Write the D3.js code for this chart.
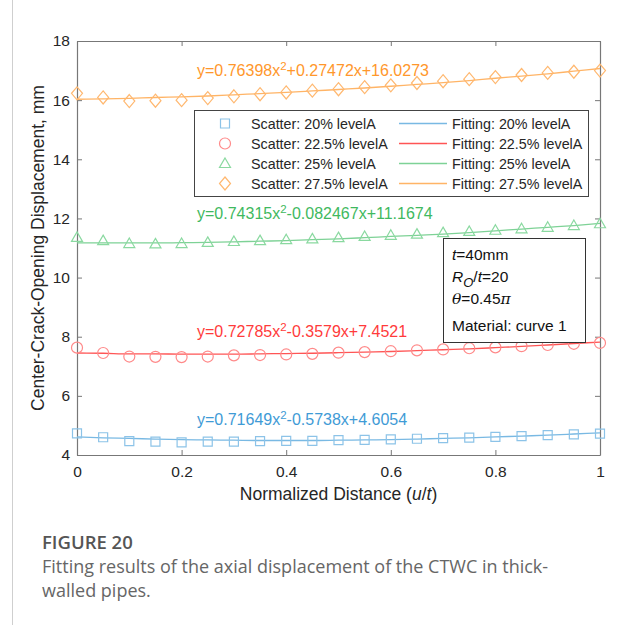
<!DOCTYPE html>
<html>
<head>
<meta charset="utf-8">
<script src="https://cdn.jsdelivr.net/npm/d3@7"></script>
<style>
  body { margin: 0; background: #fff; }
  svg { display: block; }
</style>
</head>
<body>
<div id="chart"></div>
<script>
// normalized distance u/t
var xs = [0, 0.05, 0.1, 0.15, 0.2, 0.25, 0.3, 0.35, 0.4, 0.45, 0.5,
          0.55, 0.6, 0.65, 0.7, 0.75, 0.8, 0.85, 0.9, 0.95, 1];

// scatter values (mm)
var scatter20  = [4.73, 4.60, 4.47, 4.45, 4.43, 4.45, 4.45, 4.47, 4.48, 4.48, 4.50,
                  4.51, 4.53, 4.55, 4.57, 4.59, 4.61, 4.64, 4.67, 4.70, 4.72];
var scatter225 = [7.63, 7.45, 7.33, 7.32, 7.31, 7.33, 7.37, 7.38, 7.40, 7.42, 7.46,
                  7.48, 7.51, 7.54, 7.57, 7.61, 7.64, 7.68, 7.72, 7.76, 7.79];
var scatter25  = [11.36, 11.25, 11.15, 11.14, 11.15, 11.19, 11.22, 11.25, 11.28, 11.31, 11.35,
                  11.39, 11.43, 11.47, 11.52, 11.56, 11.60, 11.65, 11.70, 11.76, 11.82];
var scatter275 = [16.23, 16.09, 15.97, 15.98, 16.00, 16.07, 16.13, 16.20, 16.26, 16.32, 16.37,
                  16.44, 16.50, 16.58, 16.64, 16.71, 16.78, 16.85, 16.92, 16.96, 17.00];

// fitted curves, sampled at the same x
var fit20  = [4.61, 4.58, 4.56, 4.54, 4.52, 4.51, 4.50, 4.49, 4.49, 4.49, 4.50,
              4.51, 4.52, 4.54, 4.56, 4.58, 4.61, 4.64, 4.67, 4.71, 4.75];
var fit225 = [7.45, 7.44, 7.42, 7.42, 7.41, 7.41, 7.41, 7.42, 7.43, 7.44, 7.46,
              7.48, 7.50, 7.53, 7.56, 7.59, 7.63, 7.67, 7.72, 7.77, 7.82];
var fit25  = [11.17, 11.17, 11.17, 11.17, 11.18, 11.19, 11.21, 11.23, 11.25, 11.28, 11.31,
              11.35, 11.39, 11.43, 11.47, 11.52, 11.58, 11.64, 11.70, 11.76, 11.83];
var fit275 = [16.03, 16.04, 16.06, 16.09, 16.11, 16.14, 16.18, 16.22, 16.26, 16.31, 16.36,
              16.41, 16.47, 16.53, 16.59, 16.66, 16.74, 16.81, 16.89, 16.98, 17.07];

var levels = ['20%', '22.5%', '25%', '27.5%'];
var markers = ['square', 'circle', 'triangle', 'diamond'];
var equations = [
  ['y=0.71649x', '-0.5738x+4.6054'],
  ['y=0.72785x', '-0.3579x+7.4521'],
  ['y=0.74315x', '-0.082467x+11.1674'],
  ['y=0.76398x', '+0.27472x+16.0273']
];
var xTicks = [0, 0.2, 0.4, 0.6, 0.8, 1];
var yTicks = [4, 6, 8, 10, 12, 14, 16, 18];

var textCol   = ['#3f9bd6', '#ff3b3b', '#3fb960', '#ff972c'];
var lineCol   = ['#79b9e3', '#ff5555', '#7ed296', '#ffb466'];
var markCol   = ['#8cc3e8', '#ff8a8a', '#8ad9a0', '#ffb870'];

var scatter = [scatter20, scatter225, scatter25, scatter275];
var fits = [fit20, fit225, fit25, fit275];
var eqBaseline = [425, 337, 219, 76];  // text positions (px)

var W = 622, H = 625;
var mLeft = 77, mRight = 600, mTop = 41, mBottom = 455;
var font = "'Liberation Sans', Arial, Helvetica, sans-serif";
var axisCol = '#777';

var svg = d3.select('#chart').append('svg')
  .attr('width', W)
  .attr('height', H)
  .attr('style', 'background-color: white');

// page border line on the left
svg.append('line')
  .attr('x1', 12.5).attr('x2', 12.5)
  .attr('y1', 0).attr('y2', H)
  .attr('stroke', '#cfcfcf').attr('stroke-width', 1);

var x = d3.scaleLinear().domain([0, 1]).range([mLeft, mRight]);
var y = d3.scaleLinear().domain([4, 18]).range([mBottom, mTop]);

// axes (ticks pointing inward, mirrored on top/right)
function styleAxis(g, showLabels) {
  g.select('.domain').attr('stroke', axisCol).attr('stroke-width', 1.2);
  g.selectAll('.tick line').attr('stroke', axisCol).attr('stroke-width', 1);
  g.selectAll('.tick text')
    .attr('fill', '#262626')
    .attr('font-family', font)
    .attr('font-size', '15.5px')
    .style('display', showLabels ? null : 'none');
}

var fmt = function(d) { return d3.format('~g')(d); };

svg.append('g')
  .attr('transform', 'translate(0,' + mBottom + ')')
  .call(d3.axisBottom(x).tickValues(xTicks).tickFormat(fmt).tickSizeInner(-5).tickSizeOuter(0).tickPadding(11))
  .call(function(g) { styleAxis(g, true); });

svg.append('g')
  .attr('transform', 'translate(0,' + mTop + ')')
  .call(d3.axisTop(x).tickValues(xTicks).tickSizeInner(-5).tickSizeOuter(0))
  .call(function(g) { styleAxis(g, false); });

svg.append('g')
  .attr('transform', 'translate(' + mLeft + ',0)')
  .call(d3.axisLeft(y).tickValues(yTicks).tickFormat(fmt).tickSizeInner(-5).tickSizeOuter(0).tickPadding(7))
  .call(function(g) { styleAxis(g, true); });

svg.append('g')
  .attr('transform', 'translate(' + mRight + ',0)')
  .call(d3.axisRight(y).tickValues(yTicks).tickSizeInner(-5).tickSizeOuter(0))
  .call(function(g) { styleAxis(g, false); });

// axis titles
svg.append('text')
  .attr('x', (mLeft + mRight) / 2)
  .attr('y', 500)
  .attr('text-anchor', 'middle')
  .attr('font-family', font)
  .attr('font-size', '17.5px')
  .attr('fill', '#262626')
  .call(function(t) {
    t.append('tspan').text('Normalized Distance (');
    t.append('tspan').attr('font-style', 'italic').text('u');
    t.append('tspan').text('/');
    t.append('tspan').attr('font-style', 'italic').text('t');
    t.append('tspan').text(')');
  });

svg.append('text')
  .attr('transform', 'translate(44,' + (mTop + mBottom) / 2 + ') rotate(-90)')
  .attr('text-anchor', 'middle')
  .attr('font-family', font)
  .attr('font-size', '17.5px')
  .attr('fill', '#262626')
  .text('Center-Crack-Opening Displacement, mm');

// marker shapes
function markerPath(kind) {
  if (kind === 'square') return 'M-4.5,-4.5H4.5V4.5H-4.5Z';
  if (kind === 'circle') return d3.symbol().type(d3.symbolCircle).size(95)();
  if (kind === 'triangle') return 'M0,-5.5L5.5,4L-5.5,4Z';
  return 'M0,-6.5L5.5,0L0,6.5L-5.5,0Z';
}

var line = d3.line()
  .x(function(d) { return x(d[0]); })
  .y(function(d) { return y(d[1]); })
  .curve(d3.curveMonotoneX);

var plot = svg.append('g').attr('class', 'plot');

scatter.forEach(function(vals, k) {
  var pts = xs.map(function(v, i) { return [v, fits[k][i]]; });
  plot.append('path')
    .attr('d', line(pts))
    .attr('fill', 'none')
    .attr('stroke', lineCol[k])
    .attr('stroke-width', 1.3);

  plot.selectAll('.m' + k)
    .data(xs.map(function(v, i) { return [v, vals[i]]; }))
    .enter().append('path')
    .attr('class', 'm' + k)
    .attr('d', markerPath(markers[k]))
    .attr('transform', function(d) { return 'translate(' + x(d[0]) + ',' + y(d[1]) + ')'; })
    .attr('fill', 'none')
    .attr('stroke', markCol[k])
    .attr('stroke-width', 1.2);

  // equation label
  var t = plot.append('text')
    .attr('x', 197)
    .attr('y', eqBaseline[k])
    .attr('font-family', font)
    .attr('font-size', '16px')
    .attr('fill', textCol[k]);
  t.append('tspan').text(equations[k][0]);
  t.append('tspan').attr('dy', -6).attr('font-size', '11.5px').text('2');
  t.append('tspan').attr('dy', 6).text(equations[k][1]);
});

// legend
var lg = svg.append('g').attr('class', 'legend');
lg.append('rect')
  .attr('x', 194.5).attr('y', 110.5)
  .attr('width', 394).attr('height', 86)
  .attr('fill', 'white').attr('stroke', '#444').attr('stroke-width', 1);

levels.forEach(function(lv, k) {
  var cy = 123.5 + k * 20;
  lg.append('path')
    .attr('d', markerPath(markers[k]))
    .attr('transform', 'translate(225,' + cy + ')')
    .attr('fill', 'none').attr('stroke', markCol[k]).attr('stroke-width', 1.2);
  lg.append('text')
    .attr('x', 251).attr('y', cy + 5)
    .attr('font-family', font).attr('font-size', '14.3px').attr('fill', '#262626')
    .text('Scatter: ' + lv + ' levelA');
  lg.append('line')
    .attr('x1', 399).attr('x2', 447).attr('y1', cy).attr('y2', cy)
    .attr('stroke', lineCol[k]).attr('stroke-width', 1.3);
  lg.append('text')
    .attr('x', 452).attr('y', cy + 5)
    .attr('font-family', font).attr('font-size', '14.3px').attr('fill', '#262626')
    .text('Fitting: ' + lv + ' levelA');
});

// annotation box
var ann = svg.append('g').attr('class', 'annotation');
ann.append('rect')
  .attr('x', 443.5).attr('y', 238.5)
  .attr('width', 142).attr('height', 104)
  .attr('fill', 'white').attr('stroke', '#333').attr('stroke-width', 1);

function annText(yy) {
  return ann.append('text')
    .attr('x', 452).attr('y', yy)
    .attr('font-family', font).attr('font-size', '15.5px').attr('fill', '#111');
}
var a1 = annText(260);
a1.append('tspan').attr('font-style', 'italic').text('t');
a1.append('tspan').text('=40mm');
var a2 = annText(282);
a2.append('tspan').attr('font-style', 'italic').text('R');
a2.append('tspan').attr('font-style', 'italic').attr('dy', 5).attr('font-size', '13px').text('O');
a2.append('tspan').attr('dy', -5).text('/');
a2.append('tspan').attr('font-style', 'italic').text('t');
a2.append('tspan').text('=20');
var a3 = annText(304);
a3.append('tspan').attr('font-style', 'italic').attr('font-family', "'DejaVu Serif', serif").text('θ');
a3.append('tspan').text('=0.45');
a3.append('tspan').attr('font-style', 'italic').attr('font-family', "'DejaVu Serif', serif").text('π');
annText(331).text('Material: curve 1');

// caption
var capFont = "'Open Sans', 'Noto Sans', sans-serif";
svg.append('text')
  .attr('x', 42).attr('y', 549)
  .attr('font-family', capFont).attr('font-size', '18.5px').attr('font-weight', 600)
  .attr('fill', '#555')
  .text('FIGURE 20');
svg.append('text')
  .attr('x', 42).attr('y', 573)
  .attr('font-family', capFont).attr('font-size', '18px')
  .attr('fill', '#666')
  .text('Fitting results of the axial displacement of the CTWC in thick-');
svg.append('text')
  .attr('x', 42).attr('y', 597)
  .attr('font-family', capFont).attr('font-size', '18px')
  .attr('fill', '#666')
  .text('walled pipes.');
</script>
</body>
</html>
